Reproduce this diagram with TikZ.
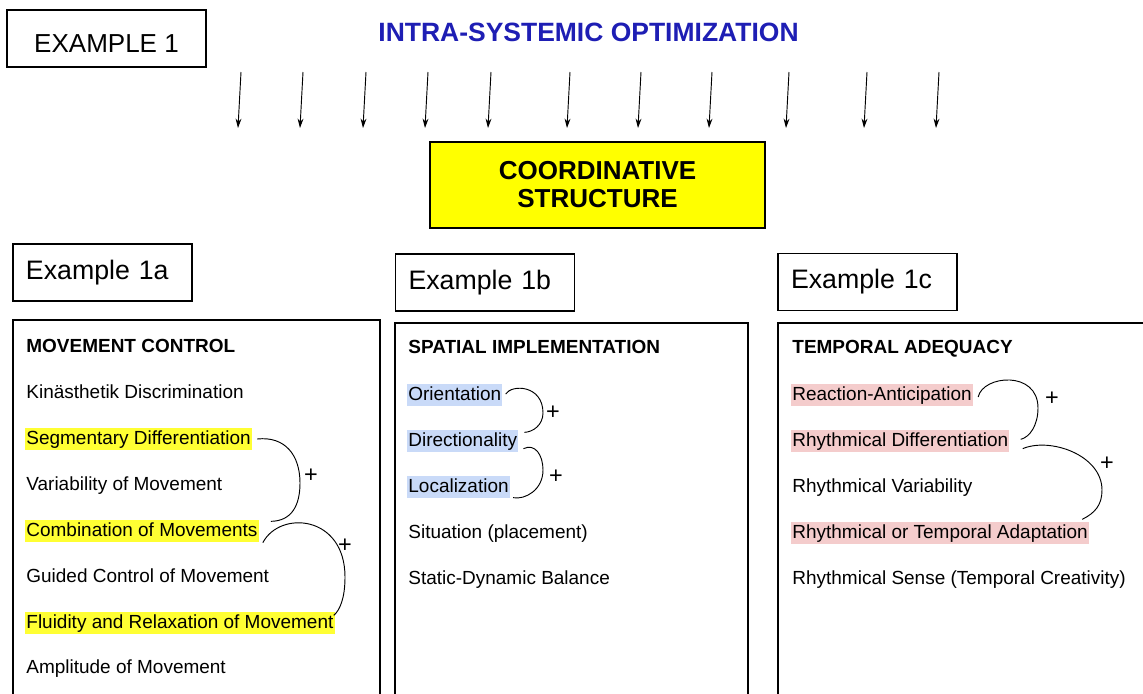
\documentclass[tikz,border=0pt]{standalone}
\usepackage{fontspec}
\setmainfont{Liberation Sans}
\usetikzlibrary{arrows.meta,calc}
\definecolor{hlyellow}{RGB}{255,255,51}
\definecolor{hlblue}{RGB}{201,218,248}
\definecolor{hlpink}{RGB}{244,204,204}
\definecolor{titleblue}{RGB}{30,30,180}
\definecolor{boxyellow}{RGB}{255,255,0}

\begin{document}
\begin{tikzpicture}[x=0.03cm,y=-0.03cm,>={Stealth[length=8pt,width=5pt]},
  exbox/.style={draw,line width=1pt,inner ysep=0pt,inner xsep=0.39cm,text width=4.59cm,align=left,minimum height=1.71cm,font=\fontsize{22.8}{27}\selectfont},
  panel/.style={draw,line width=1pt,inner sep=0pt},
  item/.style={anchor=west,inner xsep=1pt,inner ysep=0pt,text height=14.6pt,text depth=4.9pt,font=\fontsize{16.2}{19}\selectfont},
  head/.style={item,font=\fontsize{16.2}{19}\selectfont\bfseries},
  plus/.style={inner sep=0pt,font=\fontsize{20}{22}\selectfont}]
  \useasboundingbox (0,0) rectangle (1143,693);
  \clip (0,0) rectangle (1143,693);

  \node[draw,line width=1pt,inner sep=0pt,minimum width=5.97cm,minimum height=1.71cm,text height=23.5pt,text depth=0pt,font=\fontsize{22.2}{26}\selectfont] (ex) at (106.5,38.5) {EXAMPLE 1};
  \node[font=\fontsize{22.6}{27}\selectfont\bfseries,text=titleblue] (opt) at (588.5,32) {INTRA-SYSTEMIC OPTIMIZATION};
  \node[draw,fill=boxyellow,line width=1pt,inner sep=0pt,minimum width=10.05cm,minimum height=2.58cm,align=center,font=\fontsize{22.2}{23.9}\selectfont\bfseries] (cs) at (597.5,185) {COORDINATIVE\\STRUCTURE};

  \foreach \x [count=\i] in {241,303,366,428,491,570,641,712,789,867,939} {
    \coordinate (top\i) at (\x,72);
    \coordinate (bot\i) at (\x-3,128);
    \draw[->,line width=0.8pt] (top\i) -- (bot\i);
  }

  \node[exbox] (exa) at (102.5,272.5) {Example 1a};
  \node[exbox] (exb) at (485,282.5) {Example 1b};
  \node[exbox] (exc) at (867.5,282) {Example 1c};

  \node[panel,minimum width=11.01cm,minimum height=11.7cm] (mc) at (196.5,515) {};
  \node[panel,minimum width=10.59cm,minimum height=11.61cm] (si) at (571.5,516.5) {};
  \node[panel,minimum width=11.46cm,minimum height=11.61cm] (ta) at (969,516.5) {};

  \node[head] (mchead) at (25,347) {MOVEMENT CONTROL};
  \node[item] (kin) at (25,393) {Kinästhetik Discrimination};
  \node[item,fill=hlyellow] (seg) at (25,439) {Segmentary Differentiation};
  \node[item] (var) at (25,485) {Variability of Movement};
  \node[item,fill=hlyellow] (comb) at (25,531) {Combination of Movements};
  \node[item] (guid) at (25,577) {Guided Control of Movement};
  \node[item,fill=hlyellow] (flu) at (25,623) {Fluidity and Relaxation of Movement};
  \node[item] (amp) at (25,668) {Amplitude of Movement};

  \node[head] (sihead) at (407,348) {SPATIAL IMPLEMENTATION};
  \node[item,fill=hlblue] (ori) at (407,395) {Orientation};
  \node[item,fill=hlblue] (dir) at (407,441) {Directionality};
  \node[item,fill=hlblue] (loc) at (407,487) {Localization};
  \node[item] (sit) at (407,533) {Situation (placement)};
  \node[item] (bal) at (407,579) {Static-Dynamic Balance};

  \node[head] (tahead) at (791,348) {TEMPORAL ADEQUACY};
  \node[item,fill=hlpink] (react) at (791,395) {Reaction-Anticipation};
  \node[item,fill=hlpink] (rdiff) at (791,441) {Rhythmical Differentiation};
  \node[item] (rvar) at (791,487) {Rhythmical Variability};
  \node[item,fill=hlpink] (radapt) at (791,533) {Rhythmical or Temporal Adaptation};
  \node[item] (rsense) at (791,579) {Rhythmical Sense (Temporal Creativity)};

  \draw[line width=0.8pt] ($(seg.east)+(5,0)$) .. controls (285,436) and (300,455) .. (300,483) .. controls (300,505) and (292,521) .. ($(comb.north east)+(12,2)$);
  \draw[line width=0.8pt] ($(comb.south east)+(4,0)$) .. controls (280,510) and (345,515) .. (345,577) .. controls (345,598) and (340,610) .. ($(flu.north east)+(-1,4)$);
  \draw[line width=0.8pt] ($(ori.east)+(3,-1)$) .. controls (512,384) and (543,385) .. (543,413) .. controls (543,425) and (533,432) .. ($(dir.north east)+(6,3)$);
  \draw[line width=0.8pt] ($(dir.south east)+(5,-4)$) .. controls (535,443) and (543,455) .. (543,470) .. controls (543,490) and (525,500) .. ($(loc.south east)+(3,-1)$);
  \draw[line width=0.8pt] ($(react.east)+(5,2)$) .. controls (983,375) and (1038,370) .. (1038,408) .. controls (1038,425) and (1030,437) .. ($(rdiff.north east)+(11,10)$);
  \draw[line width=0.8pt] ($(rdiff.south east)+(13,-4)$) .. controls (1050,437) and (1102,455) .. (1102,490) .. controls (1102,505) and (1095,513) .. ($(radapt.north east)+(-7,-2)$);

  \node[plus] (pa1) at (311,476) {+};
  \node[plus] (pa2) at (345,546) {+};
  \node[plus] (pb1) at (553,413) {+};
  \node[plus] (pb2) at (556,477) {+};
  \node[plus] (pc1) at (1052,399) {+};
  \node[plus] (pc2) at (1107,464) {+};
\end{tikzpicture}
\end{document}
